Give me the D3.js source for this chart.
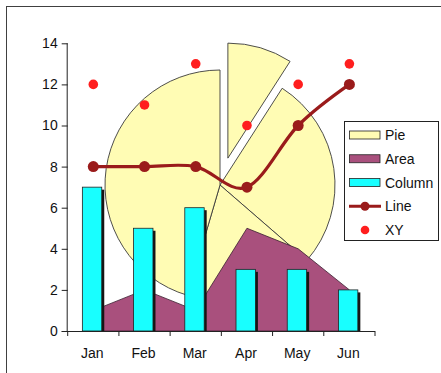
<!DOCTYPE html>
<html>
<head>
<meta charset="utf-8">
<script src="https://cdn.jsdelivr.net/npm/d3@7"></script>
<style>
  html, body { margin: 0; padding: 0; background: #fff; }
  svg { display: block; font-family: "Liberation Sans", Arial, sans-serif; }
</style>
</head>
<body>
<svg id="chart" width="441" height="373"></svg>
<script>
// ---- data ----
const months = ["Jan", "Feb", "Mar", "Apr", "May", "Jun"];
const pieValues = [1, 3, 2, 5];
const areaValues = [1, 2, 1, 5, 4, 2];
const columnValues = [7, 5, 6, 3, 3, 2];
const lineValues = [8, 8, 8, 7, 10, 12];
const xyValues = [12, 11, 13, 10, 12, 13];
const yTicks = [0, 2, 4, 6, 8, 10, 12, 14];
const legendLabels = ["Pie", "Area", "Column", "Line", "XY"];

// ---- colours ----
const C = {
  pie: "#FFFCB4",
  area: "#A9507D",
  column: "#18FFFF",
  line: "#9A1B1B",
  xy: "#FF1E1E"
};
const FONT_SIZE = 14;

const svg = d3.select("#chart");

// chart frame
svg.append("rect")
  .attr("x", 6.5).attr("y", 6.5)
  .attr("width", 460).attr("height", 400)
  .attr("fill", "#fff").attr("stroke", "#404040").attr("stroke-width", 1);

// ---- scales ----
const plot = { left: 67.7, right: 375, top: 43.3, bottom: 331 };
const x = d3.scaleBand().domain(months).range([plot.left, plot.right]).padding(0);
const cx = m => x(m) + x.bandwidth() / 2;
const y = d3.scaleLinear().domain([0, 14]).range([plot.bottom, plot.top]);

// ---- pie (drawn behind the other series) ----
const pieCentre = [220, 185];
const pieR = 115;
const explode = 28;
const arcs = d3.pie().sort(null).value(d => d)(pieValues);
const arcGen = d3.arc().innerRadius(0).outerRadius(pieR);
const pieG = svg.append("g").attr("transform", `translate(${pieCentre[0]},${pieCentre[1]})`);
pieG.selectAll("path").data(arcs).join("path")
  .attr("d", arcGen)
  .attr("transform", (d, i) => {
    if (i !== 0) return null;
    const a = (d.startAngle + d.endAngle) / 2;
    return `translate(${Math.sin(a) * explode},${-Math.cos(a) * explode})`;
  })
  .attr("fill", C.pie)
  .attr("stroke", "#3a3a3a")
  .attr("stroke-width", 0.9)
  .attr("stroke-linejoin", "miter");

// ---- area ----
const areaGen = d3.area()
  .x((d, i) => cx(months[i]))
  .y0(y(0))
  .y1(d => y(d));
svg.append("path")
  .datum(areaValues)
  .attr("d", areaGen)
  .attr("fill", C.area)
  .attr("stroke", "#3a2030")
  .attr("stroke-width", 0.8);

// ---- columns with drop shadow ----
const barW = 19.4;
const shadow = 2.5;
const colG = svg.append("g");
const barX = m => cx(m) - (barW + shadow) / 2;
colG.selectAll("rect.shadow").data(columnValues).join("rect")
  .attr("class", "shadow")
  .attr("x", (d, i) => barX(months[i]) + shadow)
  .attr("y", d => y(d) + shadow)
  .attr("width", barW)
  .attr("height", d => y(0) - y(d) - shadow)
  .attr("fill", "#151515");
colG.selectAll("rect.bar").data(columnValues).join("rect")
  .attr("class", "bar")
  .attr("x", (d, i) => barX(months[i]))
  .attr("y", d => y(d))
  .attr("width", barW)
  .attr("height", d => y(0) - y(d))
  .attr("fill", C.column)
  .attr("stroke", "#222")
  .attr("stroke-width", 0.8);

// ---- smoothed line with markers ----
const lineGen = d3.line()
  .x((d, i) => cx(months[i]))
  .y(d => y(d))
  .curve(d3.curveCatmullRom.alpha(0));
svg.append("path")
  .datum(lineValues)
  .attr("d", lineGen)
  .attr("fill", "none")
  .attr("stroke", C.line)
  .attr("stroke-width", 3.2);
svg.append("g").selectAll("circle").data(lineValues).join("circle")
  .attr("cx", (d, i) => cx(months[i]))
  .attr("cy", d => y(d))
  .attr("r", 5.5)
  .attr("fill", C.line);

// ---- XY points ----
svg.append("g").selectAll("circle").data(xyValues).join("circle")
  .attr("cx", (d, i) => cx(months[i]))
  .attr("cy", d => y(d))
  .attr("r", 4.8)
  .attr("fill", C.xy);

// ---- axes ----
const axisColor = "#222";
const yAxis = svg.append("g")
  .attr("transform", `translate(${plot.left},0)`)
  .call(d3.axisLeft(y).tickValues(yTicks).tickSize(6).tickPadding(4).tickFormat(d3.format("d")));
yAxis.select(".domain").attr("d", `M-0.5,${plot.top}V${plot.bottom}`).attr("stroke", axisColor);
yAxis.selectAll(".tick line").attr("stroke", axisColor);
yAxis.selectAll(".tick text").attr("font-size", FONT_SIZE).attr("fill", "#111")
  .attr("font-family", "Liberation Sans, Arial, sans-serif");

const xAxisG = svg.append("g").attr("transform", `translate(0,${plot.bottom})`);
xAxisG.append("line")
  .attr("x1", plot.left - 6).attr("x2", plot.right)
  .attr("y1", 0.5).attr("y2", 0.5)
  .attr("stroke", axisColor);
const boundaries = months.map(m => x(m)).concat([plot.right]);
xAxisG.selectAll("line.tick").data(boundaries).join("line")
  .attr("class", "tick")
  .attr("x1", d => d).attr("x2", d => d)
  .attr("y1", 0).attr("y2", 5)
  .attr("stroke", axisColor);
xAxisG.selectAll("text").data(months).join("text")
  .attr("x", m => cx(m) - 1)
  .attr("y", 27)
  .attr("text-anchor", "middle")
  .attr("font-size", FONT_SIZE)
  .attr("fill", "#111")
  .text(m => m);

// ---- legend ----
const lg = svg.append("g");
lg.append("rect")
  .attr("x", 344.5).attr("y", 121.5)
  .attr("width", 94).attr("height", 119)
  .attr("fill", "#fff").attr("stroke", "#222").attr("stroke-width", 1);
const legendFill = [C.pie, C.area, C.column];
legendLabels.forEach((label, i) => {
  const yy = 135 + i * 23.75;
  if (i < 3) {
    lg.append("rect")
      .attr("x", 349.5).attr("y", yy - 4)
      .attr("width", 30.5).attr("height", 8)
      .attr("fill", legendFill[i]).attr("stroke", "#222").attr("stroke-width", 0.8);
  } else if (i === 3) {
    lg.append("line")
      .attr("x1", 349).attr("x2", 381).attr("y1", yy).attr("y2", yy)
      .attr("stroke", C.line).attr("stroke-width", 3);
    lg.append("circle").attr("cx", 365).attr("cy", yy).attr("r", 4.5).attr("fill", C.line);
  } else {
    lg.append("circle").attr("cx", 365).attr("cy", yy).attr("r", 4.3).attr("fill", C.xy);
  }
  lg.append("text")
    .attr("x", 385).attr("y", yy + 5)
    .attr("font-size", FONT_SIZE).attr("fill", "#111")
    .text(label);
});
</script>
</body>
</html>
